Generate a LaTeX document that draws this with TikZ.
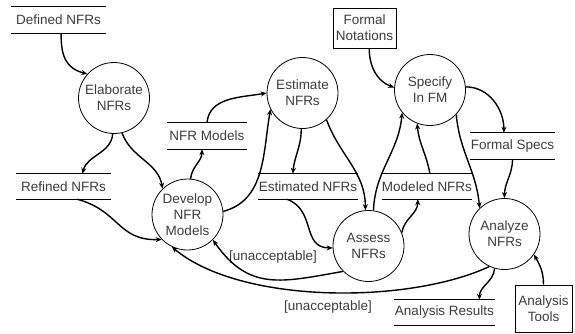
\documentclass[tikz,border=0pt]{standalone}
\usepackage{fontspec}
\setmainfont{Liberation Sans}
\usetikzlibrary{arrows.meta}
\definecolor{txt}{HTML}{3C3C3C}
\begin{document}
\begin{tikzpicture}[x=1pt,y=1pt,
  every node/.style={font=\fontsize{13.5}{16}\selectfont, text=txt},
  proc/.style={circle, draw, line width=0.8pt, minimum size=71pt, inner sep=0pt, align=center},
  store/.style={minimum height=25pt, inner sep=0pt},
  ext/.style={draw, line width=0.8pt, align=center, inner sep=0pt},
  storeline/.style={line width=1pt},
  flow/.style={line width=1.4pt, -{Stealth[length=6pt,width=5pt]}},
  lbl/.style={inner sep=0pt}
]
\useasboundingbox (0,0) rectangle (575,333);
% processes
\node[proc] (elab) at (114,235) {Elaborate\\NFRs};
\node[proc] (estm) at (302.5,240) {Estimate\\NFRs};
\node[proc] (spec) at (430,243) {Specify\\In FM};
\node[proc] (dev) at (187.5,118.5) {Develop\\NFR\\Models};
\node[proc] (assess) at (368.5,87) {Assess\\NFRs};
\node[proc] (analyze) at (504.5,99) {Analyze\\NFRs};
% data stores
\node[store, minimum width=95pt, minimum height=26pt] (def) at (58.5,313) {Defined NFRs};
\node[store, minimum width=95pt] (ref) at (63.5,146.5) {Refined NFRs};
\node[store, minimum width=80pt, minimum height=26pt] (nfrm) at (207,197) {NFR Models};
\node[store, minimum width=100pt] (est) at (308,146.5) {Estimated NFRs};
\node[store, minimum width=86pt] (mod) at (427,146.5) {Modeled NFRs};
\node[store, minimum width=85pt, minimum height=26pt] (fspec) at (512.5,187) {Formal Specs};
\node[store, minimum width=101pt] (ares) at (444.5,20.5) {Analysis Results};
\foreach \n in {def,ref,nfrm,est,mod,fspec,ares}
  \draw[storeline] (\n.north west) -- (\n.north east) (\n.south west) -- (\n.south east);
% external entities
\node[ext, minimum width=63pt, minimum height=40pt] (fn) at (364.5,305) {Formal\\Notations};
\node[ext, minimum width=57pt, minimum height=47pt] (at) at (543.5,24.5) {Analysis\\Tools};
% labels
\node[lbl] (l1) at (273,76) {[unacceptable]};
\node[lbl] (l2) at (328,26) {[unacceptable]};
% flows
\draw[flow] (def.-79) to[out=-90,in=165,looseness=1.2] (elab.138);
\draw[flow] (elab.-92) to[out=-95,in=75] (ref.34);
\draw[flow] (elab.-77) to[out=-70,in=100] (dev.134);
\draw[flow] (ref.-43) to[out=-15,in=182,looseness=1.2] (dev.-136);
\draw[flow] (dev.85) to[out=85,in=-90] (nfrm.-111);
\draw[flow] (nfrm.north) to[out=85,in=190] (estm.180);
\draw[flow] (dev.5) to[out=15,in=-100] (estm.-153);
\draw[flow] (estm.-92) to[out=-90,in=85] (est.140);
\draw[flow] (estm.-48) to[out=-70,in=90] (assess.95);
\draw[flow] (assess.82) to[out=88,in=-95] (spec.-141);
\draw[flow] (est.-149) to[out=-20,in=180,looseness=1.2] (assess.-177);
\draw[flow] (assess.22) to[out=80,in=-90] (mod.-126);
\draw[flow] (mod.77) to[out=100,in=-85] (spec.-111);
\draw[flow] (fn.-77) to[out=-90,in=160] (spec.176);
\draw[flow] (spec.5) to[out=0,in=90] (fspec.123);
\draw[flow] (spec.-43) to[out=-85,in=95] (analyze.134);
\draw[flow] (fspec.south) to[out=-90,in=90] (analyze.90);
\draw[flow] (at.north) to[out=90,in=-60] (analyze.-35);
\draw[flow] (analyze.-106) to[out=-95,in=90] (ares.20);
\draw[flow] (assess.-135) to[out=190,in=-55,looseness=1.2] (dev.-45);
\draw[flow] (analyze.-115) to[out=-155,in=-40,looseness=0.72] (dev.-116);
\end{tikzpicture}
\end{document}
